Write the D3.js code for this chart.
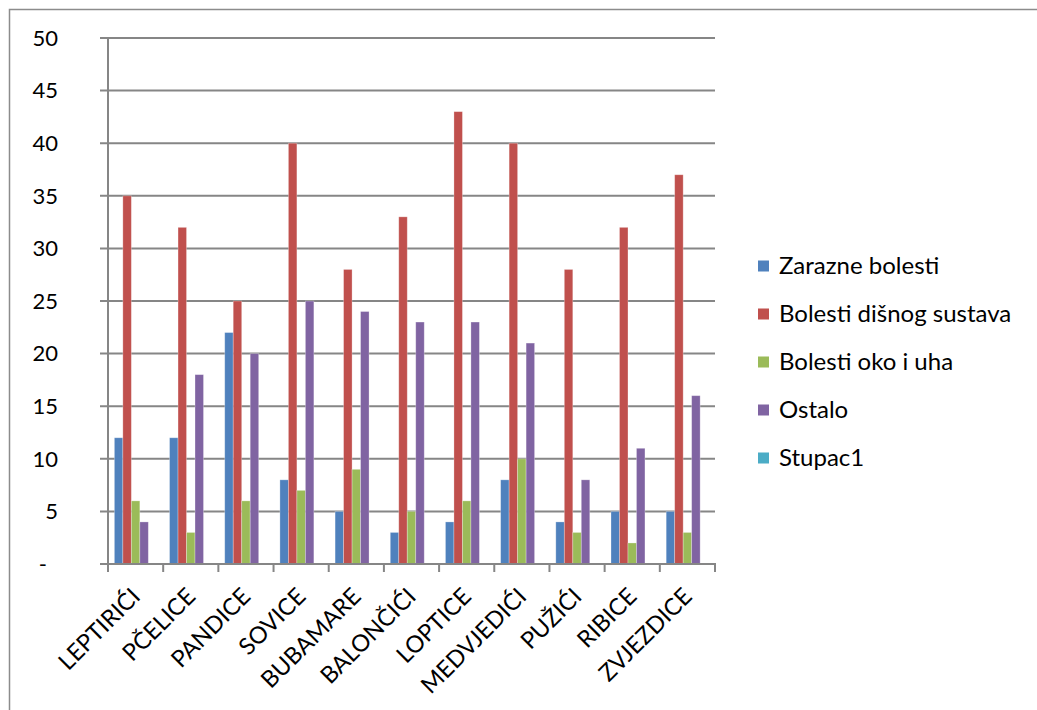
<!DOCTYPE html>
<html>
<head>
<meta charset="utf-8">
<script src="https://cdn.jsdelivr.net/npm/d3@7"></script>
<style>
  body { margin: 0; background: #fff; }
  text { font-family: Lato, "Open Sans", sans-serif; fill: #000; }
</style>
</head>
<body>
<div id="chart"></div>
<script>
// Grouped bar chart - disease counts per kindergarten group

const categories = ['LEPTIRIĆI', 'PČELICE', 'PANDICE', 'SOVICE', 'BUBAMARE', 'BALONČIĆI',
                    'LOPTICE', 'MEDVJEDIĆI', 'PUŽIĆI', 'RIBICE', 'ZVJEZDICE'];

const seriesNames = ['Zarazne bolesti', 'Bolesti dišnog sustava', 'Bolesti oko i uha', 'Ostalo', 'Stupac1'];
const seriesColors = ['#4F81BD', '#C0504D', '#9BBB59', '#8064A2', '#4BACC6'];

const zarazne = [12, 12, 22, 8, 5, 3, 4, 8, 4, 5, 5];
const disni   = [35, 32, 25, 40, 28, 33, 43, 40, 28, 32, 37];
const okoUho  = [6, 3, 6, 7, 9, 5, 6, 10, 3, 2, 3];
const ostalo  = [4, 18, 20, 25, 24, 23, 23, 21, 8, 11, 16];
const stupac1 = [null, null, null, null, null, null, null, null, null, null, null];

const yTicks = [0, 5, 10, 15, 20, 25, 30, 35, 40, 45, 50];

const seriesValues = [zarazne, disni, okoUho, ostalo, stupac1];

const width = 1037, height = 710;
const plot = { left: 108, right: 715, top: 38, bottom: 564 };

const svg = d3.select('#chart').append('svg')
    .attr('width', width)
    .attr('height', height);

// Outer chart border (only top/left fall inside the picture)
svg.append('rect')
    .attr('x', 9.5).attr('y', 9.5)
    .attr('width', width + 20).attr('height', height + 20)
    .attr('fill', 'none')
    .attr('stroke', '#8c8c8c')
    .attr('stroke-width', 1.5);

const y = d3.scaleLinear().domain([0, 50]).range([plot.bottom, plot.top]);
const x0 = d3.scaleBand().domain(categories).range([plot.left, plot.right]);
// gap width 150% -> 5 bars + 1.5 bar gap per category
const barW = x0.bandwidth() / 6.5;

// Gridlines with tick extension to the left
svg.append('g')
    .selectAll('line')
    .data(yTicks)
    .enter().append('line')
    .attr('x1', plot.left - 8)
    .attr('x2', plot.right)
    .attr('y1', d => y(d))
    .attr('y2', d => y(d))
    .style('stroke', '#868686')
    .style('stroke-width', 2);

// Y labels (accounting format: zero shown as dash)
svg.append('g')
    .selectAll('text')
    .data(yTicks)
    .enter().append('text')
    .attr('x', d => d === 0 ? 47 : 58)
    .attr('y', d => y(d))
    .attr('dy', '0.35em')
    .attr('text-anchor', 'end')
    .style('font-size', '22px')
    .text(d => d === 0 ? '-' : d);

// Bars
seriesValues.forEach((vals, si) => {
    svg.append('g')
        .selectAll('rect')
        .data(vals.map((v, i) => ({ cat: categories[i], v: v })).filter(d => d.v != null))
        .enter().append('rect')
        .attr('x', d => x0(d.cat) + barW * 0.75 + si * barW)
        .attr('y', d => y(d.v))
        .attr('width', barW)
        .attr('height', d => y(0) - y(d.v))
        .style('fill', seriesColors[si])
        .style('stroke', '#ffffff')
        .style('stroke-opacity', 0.35)
        .style('stroke-width', 0.8);
});

// Y axis line
svg.append('line')
    .attr('x1', plot.left).attr('x2', plot.left)
    .attr('y1', plot.top).attr('y2', plot.bottom + 1)
    .style('stroke', '#868686')
    .style('stroke-width', 2);

// X axis line and ticks
svg.append('line')
    .attr('x1', plot.left - 1).attr('x2', plot.right + 1)
    .attr('y1', plot.bottom).attr('y2', plot.bottom)
    .style('stroke', '#868686')
    .style('stroke-width', 2);

const xTickPos = categories.map(c => x0(c)).concat([plot.right]);
svg.append('g')
    .selectAll('line')
    .data(xTickPos)
    .enter().append('line')
    .attr('x1', d => d).attr('x2', d => d)
    .attr('y1', plot.bottom)
    .attr('y2', plot.bottom + 8)
    .style('stroke', '#868686')
    .style('stroke-width', 2);

// Category labels, rotated
svg.append('g')
    .selectAll('text')
    .data(categories)
    .enter().append('text')
    .attr('transform', d => `translate(${x0(d) + x0.bandwidth() / 2 + 6},${plot.bottom + 34}) rotate(-45)`)
    .attr('text-anchor', 'end')
    .style('font-size', '23.5px')
    .text(d => d);

// Legend
const legend = svg.append('g')
    .selectAll('g')
    .data(seriesNames)
    .enter().append('g')
    .attr('transform', (d, i) => `translate(758,${266 + i * 48})`);

legend.append('rect')
    .attr('x', 0).attr('y', -5.5)
    .attr('width', 11).attr('height', 11)
    .style('fill', (d, i) => seriesColors[i]);

legend.append('text')
    .attr('x', 21)
    .attr('dy', '0.35em')
    .style('font-size', '24px')
    .text(d => d);
</script>
</body>
</html>
